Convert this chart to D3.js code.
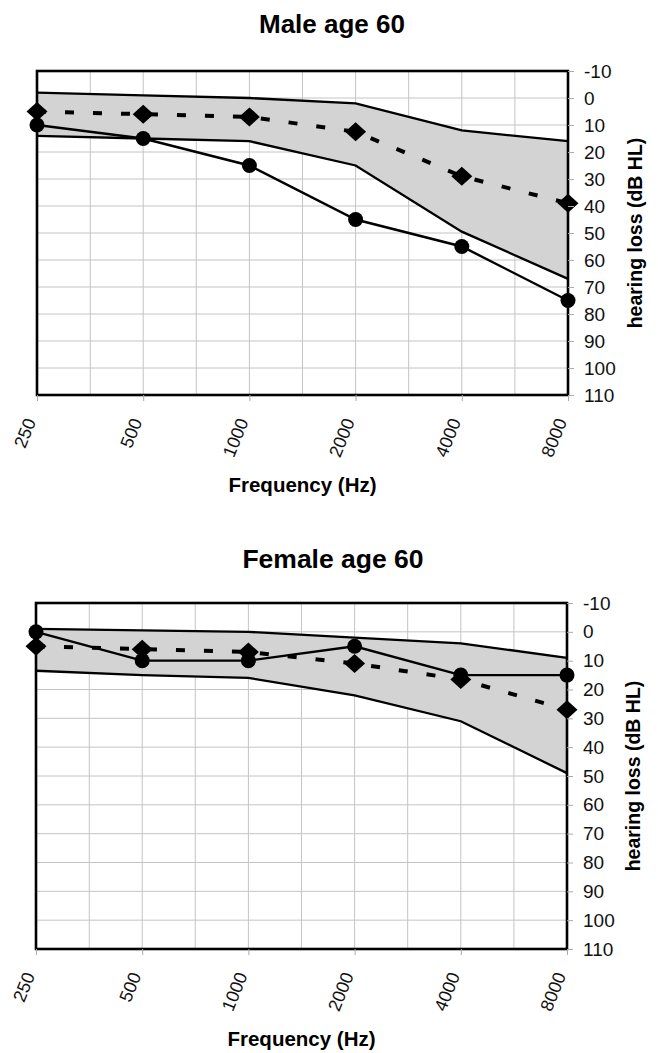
<!DOCTYPE html>
<html>
<head>
<meta charset="utf-8">
<script src="https://cdn.jsdelivr.net/npm/d3@7"></script>
<style>
  html, body { margin: 0; padding: 0; background: #fff; }
  svg { display: block; font-family: "Liberation Sans", Arial, Helvetica, sans-serif; }
</style>
</head>
<body>
<svg id="chart" width="658" height="1053"></svg>
<script>
// ---- data ----
const freqs = [250, 500, 1000, 2000, 4000, 8000];
const freqLabels = ["250", "500", "1000", "2000", "4000", "8000"];
const gridFreqs = [250, 354, 500, 707, 1000, 1414, 2000, 2828, 4000, 5657, 8000];
const yTicks = [-10, 0, 10, 20, 30, 40, 50, 60, 70, 80, 90, 100, 110];

const maleTitle = "Male age 60";
const maleMedian  = [5, 6, 7, 12.5, 29, 39];
const malePatient = [10, 15, 25, 45, 55, 75];
const maleUpper   = [-2, -1, 0, 2, 12, 16];
const maleLower   = [14, 15, 16, 25, 49.5, 67];

const femaleTitle = "Female age 60";
const femaleMedian  = [5, 6, 7, 11, 16.5, 27];
const femalePatient = [0, 10, 10, 5, 15, 15];
const femaleUpper   = [-1, -0.5, 0, 2, 4, 9];
const femaleLower   = [13.5, 15, 16, 22, 31, 49];

const xTitle = "Frequency (Hz)";
const yTitle = "hearing loss (dB HL)";

// ---- drawing ----
const svg = d3.select("#chart");

function drawPanel(cfg) {
  const g = svg.append("g");
  const x = d3.scaleLog().base(2).domain([250, 8000]).range([cfg.left, cfg.right]);
  const y = d3.scaleLinear().domain([-10, 110]).range([cfg.top, cfg.bottom]);

  // title
  g.append("text")
    .attr("x", cfg.titleX).attr("y", cfg.titleY)
    .attr("text-anchor", "middle")
    .attr("font-weight", "bold").attr("font-size", cfg.titleSize)
    .text(cfg.title);

  // grid
  g.append("g").selectAll("line").data(gridFreqs).join("line")
    .attr("x1", d => x(d)).attr("x2", d => x(d))
    .attr("y1", cfg.top).attr("y2", cfg.bottom)
    .attr("stroke", "#c4c4c4").attr("stroke-width", 1);
  g.append("g").selectAll("line").data(yTicks).join("line")
    .attr("x1", cfg.left).attr("x2", cfg.right)
    .attr("y1", d => y(d)).attr("y2", d => y(d))
    .attr("stroke", "#c4c4c4").attr("stroke-width", 1);

  const rows = freqs.map((f, i) => ({
    f, med: cfg.median[i], pat: cfg.patient[i], up: cfg.upper[i], lo: cfg.lower[i]
  }));

  // band
  const area = d3.area().x(d => x(d.f)).y0(d => y(d.lo)).y1(d => y(d.up));
  g.append("path").datum(rows).attr("d", area).attr("fill", "#d3d3d3");
  const lineUp = d3.line().x(d => x(d.f)).y(d => y(d.up));
  const lineLo = d3.line().x(d => x(d.f)).y(d => y(d.lo));
  g.append("path").datum(rows).attr("d", lineUp).attr("fill", "none")
    .attr("stroke", "#000").attr("stroke-width", 2.3);
  g.append("path").datum(rows).attr("d", lineLo).attr("fill", "none")
    .attr("stroke", "#000").attr("stroke-width", 2.3);

  // patient solid line
  const linePat = d3.line().x(d => x(d.f)).y(d => y(d.pat));
  g.append("path").datum(rows).attr("d", linePat).attr("fill", "none")
    .attr("stroke", "#000").attr("stroke-width", 2.4);

  // median dashed line
  const lineMed = d3.line().x(d => x(d.f)).y(d => y(d.med));
  g.append("path").datum(rows).attr("d", lineMed).attr("fill", "none")
    .attr("stroke", "#000").attr("stroke-width", 4)
    .attr("stroke-dasharray", "9,19");

  // circles
  g.append("g").selectAll("circle").data(rows).join("circle")
    .attr("cx", d => x(d.f)).attr("cy", d => y(d.pat)).attr("r", 7.5)
    .attr("fill", "#000");

  // diamonds
  g.append("g").selectAll("path").data(rows).join("path")
    .attr("transform", d => `translate(${x(d.f)},${y(d.med)})`)
    .attr("d", "M0,-9.5L10.5,0L0,9.5L-10.5,0Z")
    .attr("fill", "#000");

  // border
  g.append("rect")
    .attr("x", cfg.left).attr("y", cfg.top)
    .attr("width", cfg.right - cfg.left).attr("height", cfg.bottom - cfg.top)
    .attr("fill", "none").attr("stroke", "#000").attr("stroke-width", 2.6);

  // right axis
  const ax = g.append("g")
    .attr("transform", `translate(${cfg.right},0)`)
    .call(d3.axisRight(y).tickValues(yTicks).tickSize(6).tickPadding(10).tickFormat(d => String(d)));
  ax.select(".domain").remove();
  ax.selectAll(".tick line").attr("stroke", "#aaa");
  ax.selectAll(".tick text")
    .attr("font-size", 19).attr("fill", "#111")
    .attr("font-family", "'Liberation Sans', Arial, sans-serif")
    .attr("text-anchor", "start");

  // bottom axis ticks
  const bx = g.append("g")
    .attr("transform", `translate(0,${cfg.bottom})`)
    .call(d3.axisBottom(x).tickValues(freqs).tickSize(6).tickFormat(""));
  bx.select(".domain").remove();
  bx.selectAll(".tick line").attr("stroke", "#aaa");

  // rotated x labels
  g.append("g").selectAll("text").data(freqs).join("text")
    .attr("transform", d => `translate(${x(d) - 6.5},${cfg.bottom + 24}) rotate(-68)`)
    .attr("text-anchor", "end").attr("dy", "0.35em")
    .attr("font-size", 18).attr("fill", "#111")
    .text((d, i) => freqLabels[i]);

  // x title
  g.append("text")
    .attr("x", (cfg.left + cfg.right) / 2).attr("y", cfg.bottom + 97)
    .attr("text-anchor", "middle")
    .attr("font-weight", "bold").attr("font-size", 20.5)
    .text(xTitle);

  // y title (right)
  g.append("text")
    .attr("transform", `translate(${cfg.yTitleX},${(cfg.top + cfg.bottom) / 2}) rotate(-90)`)
    .attr("text-anchor", "middle").attr("dy", "0.35em")
    .attr("font-weight", "bold").attr("font-size", 19.5)
    .text(yTitle);
}

drawPanel({
  title: maleTitle, titleX: 332, titleY: 33, titleSize: 26,
  left: 37, right: 568, top: 71, bottom: 395, yTitleX: 635,
  median: maleMedian, patient: malePatient, upper: maleUpper, lower: maleLower
});

drawPanel({
  title: femaleTitle, titleX: 333, titleY: 568, titleSize: 26.5,
  left: 36, right: 567, top: 603, bottom: 949, yTitleX: 633,
  median: femaleMedian, patient: femalePatient, upper: femaleUpper, lower: femaleLower
});
</script>
</body>
</html>
